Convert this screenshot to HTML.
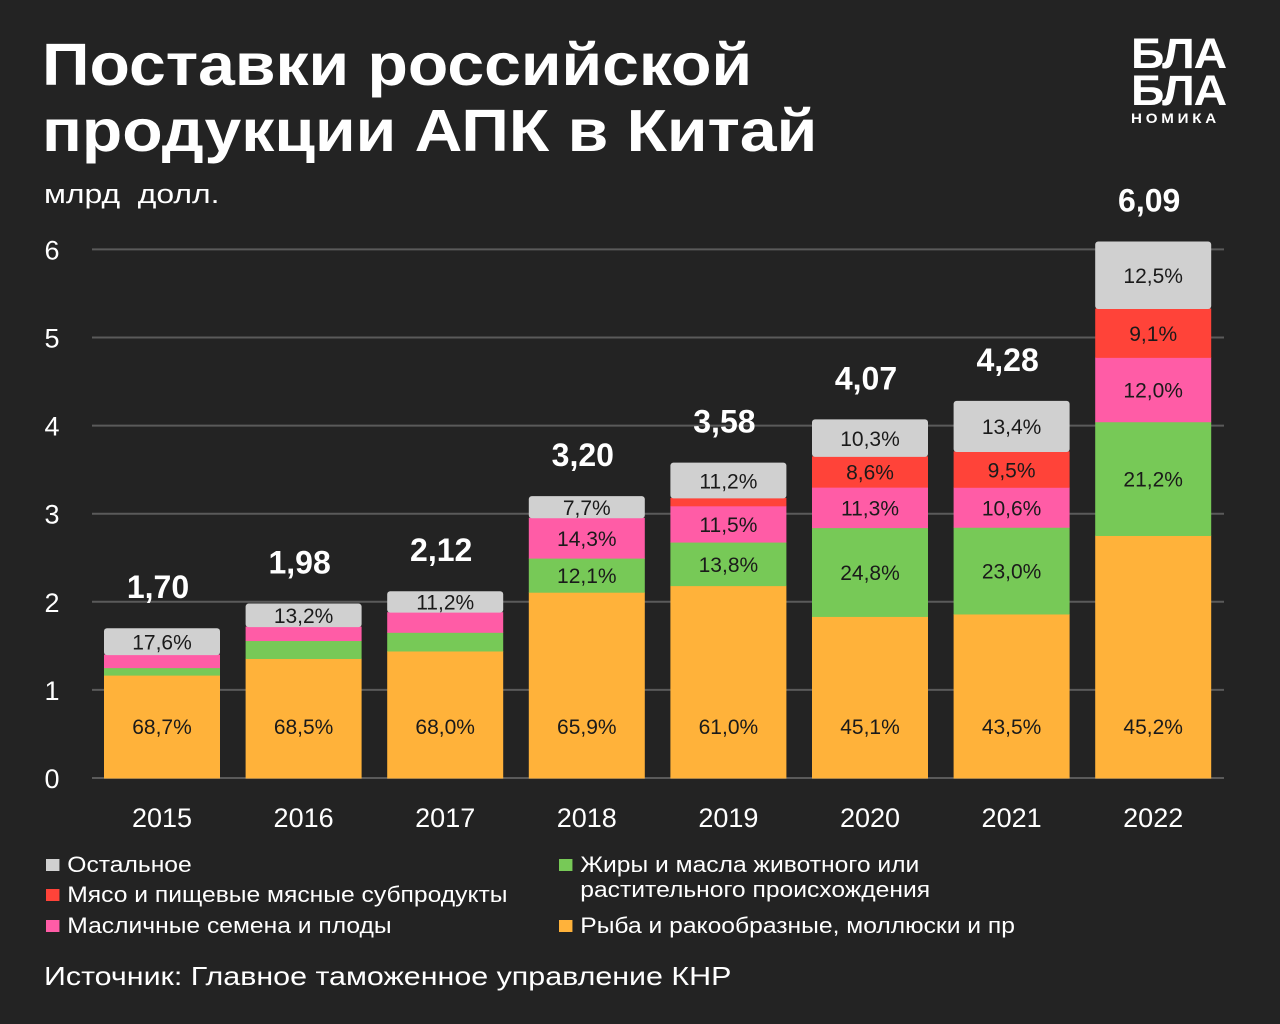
<!DOCTYPE html>
<html><head><meta charset="utf-8">
<style>
html,body{margin:0;padding:0;background:#232323;}
body{width:1280px;height:1024px;overflow:hidden;position:relative;font-family:"Liberation Sans","DejaVu Sans",sans-serif;color:#fff;}
.title{position:absolute;left:42px;top:32px;font-size:59px;font-weight:bold;line-height:66px;transform:scaleX(1.12);transform-origin:left top;white-space:nowrap;}
.unit{position:absolute;left:44px;top:179px;font-size:27px;transform:scaleX(1.18);transform-origin:left top;white-space:nowrap;}
.logo{position:absolute;left:1131px;top:36px;font-weight:bold;font-size:43px;line-height:37px;letter-spacing:-1px;transform:scaleX(1.08);transform-origin:left top;}
.logo .s{font-size:14px;letter-spacing:3.5px;line-height:16px;}
.leg{position:absolute;font-size:22px;line-height:25px;transform:scaleX(1.12);transform-origin:left top;white-space:nowrap;}
.leg i{display:inline-block;width:12px;height:12px;margin-right:7px;vertical-align:1px;}
.src{position:absolute;left:44px;top:961px;font-size:26px;transform:scaleX(1.17);transform-origin:left top;white-space:nowrap;}
</style></head><body>
<div class="title">Поставки российской<br>продукции АПК в Китай</div>
<div class="unit">млрд&nbsp; долл.</div>
<div class="logo">БЛА<br>БЛА<div class="s">НОМИКА</div></div>
<svg id="chart" width="1280" height="1024" style="position:absolute;left:0;top:0" xmlns="http://www.w3.org/2000/svg"></svg>
<div class="leg" style="left:46px;top:852px"><i style="background:#d0d0d0"></i>Остальное</div>
<div class="leg" style="left:46px;top:882px"><i style="background:#ff4339"></i>Мясо и пищевые мясные субпродукты</div>
<div class="leg" style="left:46px;top:913px"><i style="background:#ff5ca6"></i>Масличные семена и плоды</div>
<div class="leg" style="left:559px;top:852px"><i style="background:#77c957"></i>Жиры и масла животного или<br><span style="margin-left:19px">растительного происхождения</span></div>
<div class="leg" style="left:559px;top:913px"><i style="background:#ffb23a"></i>Рыба и ракообразные, моллюски и пр</div>
<div class="src">Источник: Главное таможенное управление КНР</div>
<script>
const years=["2015","2016","2017","2018","2019","2020","2021","2022"];
const totals=[1.70,1.98,2.12,3.20,3.58,4.07,4.28,6.09];
const totalLabels=["1,70","1,98","2,12","3,20","3,58","4,07","4,28","6,09"];
const fishPct=[68.7,68.5,68.0,65.9,61.0,45.1,43.5,45.2];
const fatsPct=[5.0,10.3,10.0,12.1,13.8,24.8,23.0,21.2];
const seedsPct=[8.7,8.0,10.8,14.3,11.5,11.3,10.6,12.0];
const meatPct=[0,0,0,0,2.5,8.6,9.5,9.1];
const otherPct=[17.6,13.2,11.2,7.7,11.2,10.3,13.4,12.5];
const fishLbl=["68,7%","68,5%","68,0%","65,9%","61,0%","45,1%","43,5%","45,2%"];
const fatsLbl=[null,null,null,"12,1%","13,8%","24,8%","23,0%","21,2%"];
const seedsLbl=[null,null,null,"14,3%","11,5%","11,3%","10,6%","12,0%"];
const meatLbl=[null,null,null,null,null,"8,6%","9,5%","9,1%"];
const otherLbl=["17,6%","13,2%","11,2%","7,7%","11,2%","10,3%","13,4%","12,5%"];
const yTicks=[0,1,2,3,4,5,6];

const svg=document.getElementById('chart');
const NS='http://www.w3.org/2000/svg';
const y0=778, unitPx=88.1, x0=104, step=141.6, bw=116;
const Y=v=>y0-v*unitPx;
const X=i=>x0+i*step;
function mk(t,a){const e=document.createElementNS(NS,t);for(const k in a)e.setAttribute(k,a[k]);svg.appendChild(e);return e;}
yTicks.forEach(t=>{
  const l=mk('line',{x1:92,x2:1224,y1:Y(t),y2:Y(t),stroke:'#5a5a5a','stroke-width':2});
  
  
  const tx=mk('text',{x:52,y:Y(t)+10,'font-size':27,fill:'#fff','text-anchor':'middle','font-family':'Liberation Sans, sans-serif'});
  tx.textContent=String(t);
  
  
});
const series=[
 {p:fishPct,l:fishLbl,c:'#ffb23a',n:'fish'},
 {p:fatsPct,l:fatsLbl,c:'#77c957',n:'fats'},
 {p:seedsPct,l:seedsLbl,c:'#ff5ca6',n:'seeds'},
 {p:meatPct,l:meatLbl,c:'#ff4339',n:'meat'},
 {p:otherPct,l:otherLbl,c:'#d0d0d0',n:'other'}];
years.forEach((yr,i)=>{
  let cum=0;
  const sumP=series.reduce((s,se)=>s+se.p[i],0);
  series.forEach((se,si)=>{
    const v=totals[i]*se.p[i]/sumP;
    if(v<=0)return;
    const top=Y(cum+v), bot=Y(cum);
    const r=mk('rect',{x:X(i),y:top,width:bw,height:bot-top+0.5,fill:se.c,rx:(si===4?3:0)});
    
    
    if(se.l[i]){
      const ly = si===0 ? 734 : (top+bot)/2+8;
      const t=mk('text',{x:X(i)+bw/2,y:ly,'font-size':21,fill:'#1a1a1a','text-anchor':'middle','font-family':'Liberation Sans, sans-serif'});
      t.textContent=se.l[i];
      
      
    }
    cum+=v;
  });
  const tt=mk('text',{x:X(i)+bw/2-4,y:Y(totals[i])-30,'font-size':32,'font-weight':'bold',fill:'#fff','text-anchor':'middle','font-family':'Liberation Sans, sans-serif'});
  tt.textContent=totalLabels[i];
  
  
  const xl=mk('text',{x:X(i)+bw/2,y:827,'font-size':27,fill:'#fff','text-anchor':'middle','font-family':'Liberation Sans, sans-serif'});
  xl.textContent=yr;
  
  
});
</script>
</body></html>
